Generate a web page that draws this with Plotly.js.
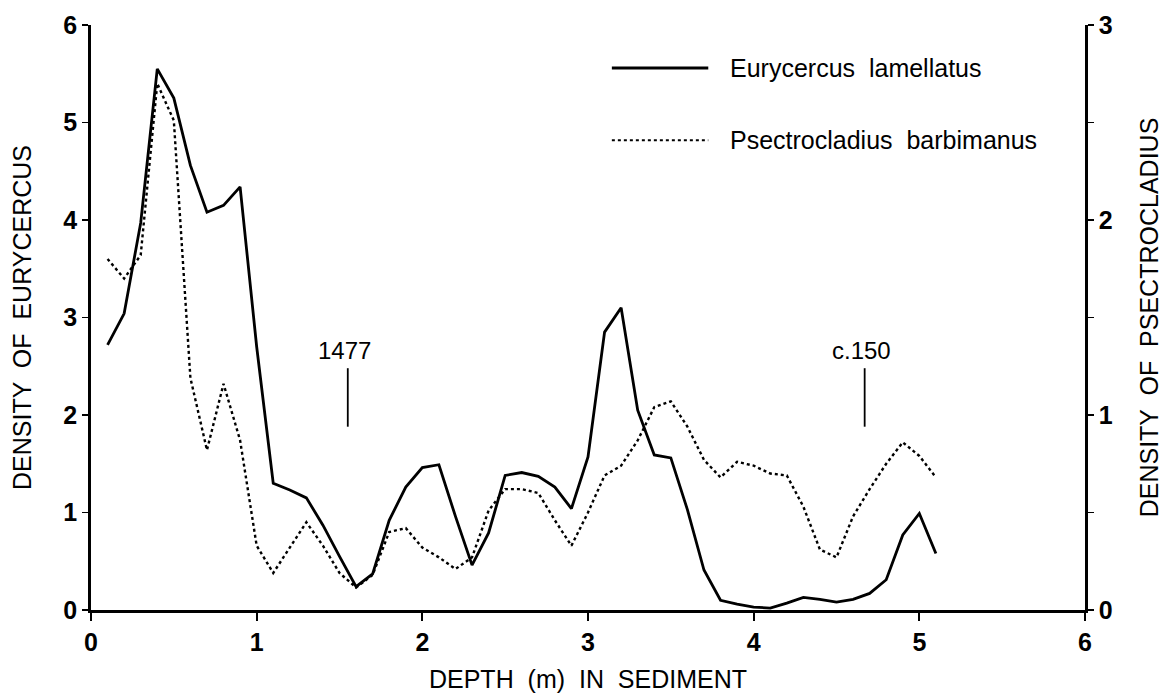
<!DOCTYPE html>
<html>
<head>
<meta charset="utf-8">
<script src="https://cdn.plot.ly/plotly-3.0.1.min.js"></script>
<style>
  html, body { margin: 0; padding: 0; background: #fff; }
  #chart { width: 1165px; height: 693px; }
</style>
</head>
<body>
<div id="chart"></div>
<script>
// Depth (m) in sediment
const depth = [0.1,0.2,0.3,0.4,0.5,0.6,0.7,0.8,0.9,1.0,
               1.1,1.2,1.3,1.4,1.5,1.6,1.7,1.8,1.9,2.0,
               2.1,2.2,2.3,2.4,2.5,2.6,2.7,2.8,2.9,3.0,
               3.1,3.2,3.3,3.4,3.5,3.6,3.7,3.8,3.9,4.0,
               4.1,4.2,4.3,4.4,4.5,4.6,4.7,4.8,4.9,5.0,5.1];
// Eurycercus lamellatus density (left axis)
const eurycercus = [2.72,3.04,3.97,5.55,5.25,4.56,4.08,4.15,4.34,2.70,
                    1.30,1.23,1.15,0.87,0.55,0.24,0.37,0.92,1.26,1.46,
                    1.49,0.96,0.46,0.79,1.38,1.41,1.37,1.26,1.04,1.57,
                    2.85,3.10,2.05,1.59,1.56,1.03,0.41,0.10,0.06,0.03,
                    0.02,0.07,0.13,0.11,0.08,0.11,0.17,0.31,0.77,0.99,0.58];
// Psectrocladius barbimanus density (right axis)
const psectrocladius = [1.80,1.70,1.82,2.70,2.51,1.19,0.82,1.16,0.87,0.33,
                        0.19,0.32,0.45,0.33,0.19,0.115,0.18,0.40,0.42,0.32,
                        0.27,0.21,0.27,0.51,0.62,0.62,0.60,0.46,0.33,0.50,
                        0.69,0.74,0.87,1.04,1.07,0.94,0.77,0.68,0.76,0.74,
                        0.70,0.69,0.53,0.31,0.27,0.48,0.62,0.75,0.86,0.79,0.68];
const seriesNames = ["Eurycercus  lamellatus", "Psectrocladius  barbimanus"];
// Dated horizons
const markerLabels = ["1477", "c.150"];
const markerDepths = [1.55, 4.67];

const xTicks = [0,1,2,3,4,5,6];
const yTicks = [0,1,2,3,4,5,6];
const y2TickVals = [0,0.5,1,1.5,2,2.5,3];
const y2TickText = ["0","","1","","2","","3"];

const FONT = "Liberation Sans, Arial, Helvetica, sans-serif";
const TICKFONT = {family: FONT, size: 25, color: "#000", weight: "bold"};
const TEXTFONT = {family: FONT, size: 25, color: "#000"};
const LABELFONT = {family: FONT, size: 24, color: "#000"};

const traces = [
  {x: depth, y: eurycercus, type: "scatter", mode: "lines", name: seriesNames[0],
   line: {color: "#000", width: 2.8}, yaxis: "y", showlegend: false},
  {x: depth, y: psectrocladius, type: "scatter", mode: "lines", name: seriesNames[1],
   line: {color: "#000", width: 2.4, dash: "dot"}, yaxis: "y2", showlegend: false}
];

markerDepths.forEach(function(d){
  traces.push({x: [d, d], y: [1.88, 2.48], type: "scatter", mode: "lines",
    line: {color: "#000", width: 1.8}, yaxis: "y", showlegend: false, hoverinfo: "skip"});
});

const annotations = markerLabels.map(function(t, i){
  return {x: markerDepths[i], y: 2.66, xref: "x", yref: "y", text: t, showarrow: false,
          xshift: -3, font: LABELFONT, xanchor: "center", yanchor: "middle"};
});

// custom legend
const legY = [0.9265, 0.803];
const shapes = [];
seriesNames.forEach(function(n, i){
  shapes.push({type: "line", xref: "paper", yref: "paper", x0: 0.524, x1: 0.621, y0: legY[i], y1: legY[i],
    line: {color: "#000", width: i === 0 ? 2.8 : 2.2, dash: i === 0 ? "solid" : "dot"}});
  annotations.push({xref: "paper", yref: "paper", x: 0.641, y: legY[i], text: n, showarrow: false,
    xanchor: "left", yanchor: "middle", font: TEXTFONT});
});

const layout = {
  width: 1165, height: 693,
  margin: {l: 91, r: 80, t: 25, b: 83},
  paper_bgcolor: "#fff", plot_bgcolor: "#fff",
  font: {family: FONT, color: "#000"},
  showlegend: false,
  xaxis: {
    range: [0, 6], tickvals: xTicks, ticktext: xTicks.map(String),
    ticks: "outside", ticklen: 8, tickwidth: 2, tickcolor: "#000",
    showline: true, linewidth: 2.8, linecolor: "#000", mirror: false,
    showgrid: false, zeroline: false,
    tickfont: TICKFONT,
    title: {text: "DEPTH  (m)  IN  SEDIMENT", font: TEXTFONT, standoff: 18}
  },
  yaxis: {
    range: [0, 6], tickvals: yTicks, ticktext: yTicks.map(String),
    ticks: "outside", ticklen: 6, tickwidth: 1.5, tickcolor: "#000",
    showline: true, linewidth: 2.8, linecolor: "#000",
    showgrid: false, zeroline: false,
    tickfont: TICKFONT,
    title: {text: "DENSITY  OF  EURYCERCUS", font: TEXTFONT, standoff: 25}
  },
  yaxis2: {
    overlaying: "y", side: "right", anchor: "x",
    range: [0, 3], tickvals: y2TickVals, ticktext: y2TickText,
    ticks: "outside", ticklen: 6, tickwidth: 1.5, tickcolor: "#000",
    showline: true, linewidth: 2.8, linecolor: "#000",
    showgrid: false, zeroline: false,
    tickfont: TICKFONT,
    title: {text: "DENSITY  OF  PSECTROCLADIUS", font: TEXTFONT, standoff: 29}
  },
  shapes: shapes,
  annotations: annotations
};

Plotly.newPlot("chart", traces, layout, {displayModeBar: false, staticPlot: true});
</script>
</body>
</html>
